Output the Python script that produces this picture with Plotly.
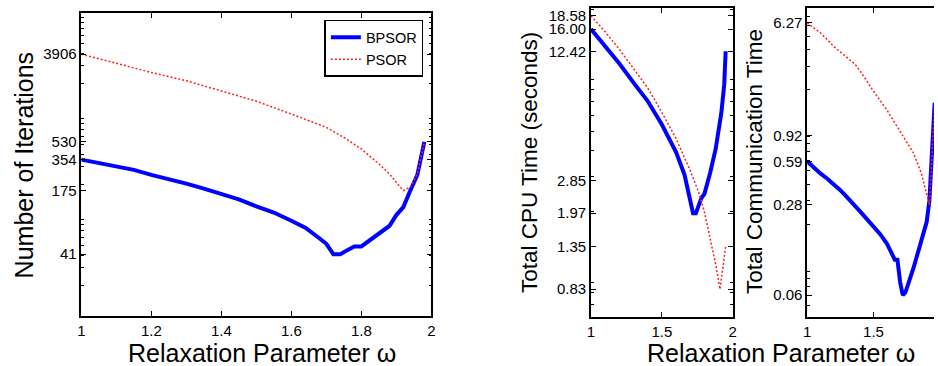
import plotly.graph_objects as go

W, H = 938, 366

# ---------------- data ----------------
# Left panel: number of iterations vs relaxation parameter
omega_iter_bpsor = [1.00, 1.05, 1.10, 1.15, 1.20, 1.25, 1.30, 1.35, 1.40, 1.45, 1.50, 1.55, 1.60, 1.64,
                    1.68, 1.70, 1.72, 1.74, 1.76, 1.78, 1.80, 1.82, 1.84, 1.86, 1.88, 1.90, 1.92, 1.94,
                    1.96, 1.98]
iter_bpsor = [354, 328, 303, 280, 250, 228, 205, 183, 160, 143, 122, 106, 88, 75,
              59, 52, 41, 41, 45, 49, 49, 55, 61, 68, 78, 100, 120, 175,
              250, 530]
omega_iter_psor = [1.00, 1.10, 1.20, 1.30, 1.40, 1.50, 1.60, 1.70, 1.75, 1.80, 1.85, 1.88, 1.90,
                   1.92, 1.94, 1.96, 1.98]
iter_psor = [3906, 3150, 2576, 2133, 1700, 1340, 1000, 738, 587, 451, 321, 256, 211,
             175, 190, 255, 530]
iter_ticks = [41, 175, 354, 530, 3906]

# Middle panel: total CPU time (seconds)
omega_cpu_bpsor = [1.00, 1.10, 1.20, 1.30, 1.40, 1.50, 1.60, 1.66, 1.70, 1.72, 1.74, 1.76, 1.78,
                   1.80, 1.84, 1.88, 1.92, 1.94, 1.95]
cpu_bpsor = [16.00, 13.2, 10.8, 8.7, 7.05, 5.4, 3.95, 3.05, 2.3, 1.97, 1.97, 2.15, 2.35,
             2.45, 3.1, 4.1, 6.2, 8.5, 12.42]
omega_cpu_psor = [1.00, 1.10, 1.20, 1.30, 1.40, 1.50, 1.60, 1.70, 1.76, 1.80, 1.84, 1.88, 1.91, 1.95]
cpu_psor = [18.58, 15.5, 12.7, 10.2, 8.2, 6.2, 4.6, 3.2, 2.5, 2.0, 1.5, 1.1, 0.83, 1.35]
cpu_ticks = [0.83, 1.35, 1.97, 2.85, 12.42, 16.00, 18.58]
cpu_ticktext = ["0.83", "1.35", "1.97", "2.85", "12.42", "16.00", "18.58"]

# Right panel: total communication time
omega_comm_bpsor = [1.00, 1.05, 1.10, 1.15, 1.20, 1.25, 1.30, 1.35, 1.40, 1.45, 1.50, 1.55, 1.60,
                    1.64, 1.66, 1.68, 1.70, 1.72, 1.74, 1.76, 1.78, 1.80, 1.84, 1.88, 1.90, 1.92,
                    1.94, 1.96]
comm_bpsor = [0.59, 0.53, 0.48, 0.44, 0.40, 0.36, 0.32, 0.285, 0.25, 0.22, 0.195, 0.17, 0.145,
              0.12, 0.11, 0.11, 0.075, 0.06, 0.063, 0.072, 0.085, 0.095, 0.13, 0.18, 0.21, 0.30,
              0.70, 1.6]
omega_comm_psor = [1.00, 1.10, 1.20, 1.30, 1.36, 1.40, 1.50, 1.60, 1.70, 1.80, 1.86, 1.90, 1.92,
                   1.94, 1.96]
comm_psor = [6.27, 5.3, 4.2, 3.44, 3.1, 2.75, 1.95, 1.42, 0.98, 0.68, 0.48, 0.34, 0.28,
             0.65, 1.5]
comm_ticks = [0.06, 0.28, 0.59, 0.92, 6.27]
comm_ticktext = ["0.06", "0.28", "0.59", "0.92", "6.27"]

# ---------------- styling helpers ----------------
FONT = "Liberation Sans, Arial, Helvetica, sans-serif"
BLUE = "#0000ff"
RED = "#ff2020"


def fx(p):
    return p / W


def fy(p):
    return 1 - p / H


minor_log = [m * 10 ** e for e in range(-3, 6) for m in range(2, 10)]

fig = go.Figure()

blue_line = dict(color=BLUE, width=4)
red_line = dict(color=RED, width=1.5, dash="2px,2px")

fig.add_trace(go.Scatter(x=omega_iter_bpsor, y=iter_bpsor, mode="lines", line=blue_line,
                         name="BPSOR", xaxis="x", yaxis="y"))
fig.add_trace(go.Scatter(x=omega_iter_psor, y=iter_psor, mode="lines", line=red_line,
                         name="PSOR", xaxis="x", yaxis="y"))
fig.add_trace(go.Scatter(x=omega_cpu_bpsor, y=cpu_bpsor, mode="lines", line=blue_line,
                         showlegend=False, xaxis="x2", yaxis="y2"))
fig.add_trace(go.Scatter(x=omega_cpu_psor, y=cpu_psor, mode="lines", line=red_line,
                         showlegend=False, xaxis="x2", yaxis="y2"))
fig.add_trace(go.Scatter(x=omega_comm_bpsor, y=comm_bpsor, mode="lines", line=blue_line,
                         showlegend=False, xaxis="x3", yaxis="y3"))
fig.add_trace(go.Scatter(x=omega_comm_psor, y=comm_psor, mode="lines", line=red_line,
                         showlegend=False, xaxis="x3", yaxis="y3"))

common_axis = dict(showline=True, linecolor="black", linewidth=1.5, showgrid=False,
                   zeroline=False, ticks="inside", ticklen=5, tickcolor="black",
                   tickfont=dict(family=FONT, size=15, color="black"))

yminor = dict(ticks="inside", ticklen=3, tickcolor="black", tickmode="array",
              tickvals=minor_log, showgrid=False)

fig.update_layout(
    width=W, height=H,
    margin=dict(l=0, r=0, t=0, b=0),
    paper_bgcolor="white", plot_bgcolor="white",
    font=dict(family=FONT, color="black"),
    xaxis=dict(common_axis, domain=[fx(78), fx(431)], range=[1, 2], anchor="y",
               tickmode="array", tickvals=[1, 1.2, 1.4, 1.6, 1.8, 2],
               ticktext=["1", "1.2", "1.4", "1.6", "1.8", "2"], mirror="ticks"),
    yaxis=dict(common_axis, domain=[fy(316), fy(12)], type="log", range=[1, 4], anchor="x",
               tickmode="array", tickvals=iter_ticks, ticktext=[str(v) for v in iter_ticks],
               mirror="ticks", minor=yminor),
    xaxis2=dict(common_axis, domain=[fx(592), fx(735)], range=[1, 2], anchor="y2",
                tickmode="array", tickvals=[1, 1.5, 2], ticktext=["1", "1.5", "2"], mirror="ticks"),
    yaxis2=dict(common_axis, domain=[fy(317), fy(7)], type="log", range=[-0.219, 1.308],
                anchor="x2", tickmode="array", tickvals=cpu_ticks, ticktext=cpu_ticktext,
                mirror="ticks", minor=yminor),
    xaxis3=dict(common_axis, domain=[fx(810), 1.0], range=[1, 1.955], anchor="y3",
                tickmode="array", tickvals=[1, 1.5], ticktext=["1", "1.5"], mirror="ticks"),
    yaxis3=dict(common_axis, domain=[fy(317), fy(7)], type="log", range=[-1.385, 0.908],
                anchor="x3", tickmode="array", tickvals=comm_ticks, ticktext=comm_ticktext,
                mirror=False, minor=yminor),
    legend=dict(x=fx(423), y=fy(19), xanchor="right", yanchor="top",
                bgcolor="white", bordercolor="black", borderwidth=1.5,
                font=dict(family=FONT, size=14.5, color="black"),
                tracegroupgap=0, itemwidth=30),
    showlegend=True,
)

annos = [
    dict(text="Number of Iterations", x=fx(20), y=fy(164), textangle=-90, size=25),
    dict(text="Relaxation Parameter ω", x=fx(260), y=fy(353), textangle=0, size=25),
    dict(text="Total CPU Time (seconds)", x=fx(530), y=fy(162), textangle=-90, size=22.5),
    dict(text="Total Communication Time", x=fx(757), y=fy(161), textangle=-90, size=22.5),
    dict(text="Relaxation Parameter ω", x=fx(784), y=fy(353), textangle=0, size=25),
]
for a in annos:
    fig.add_annotation(text=a["text"], x=a["x"], y=a["y"], xref="paper", yref="paper",
                       xanchor="center", yanchor="middle", showarrow=False,
                       textangle=a["textangle"],
                       font=dict(family=FONT, size=a["size"], color="black"))

fig.write_html("out.html", config={"displayModeBar": False},
               post_script="document.body.style.margin='0';document.body.style.overflow='hidden';")
